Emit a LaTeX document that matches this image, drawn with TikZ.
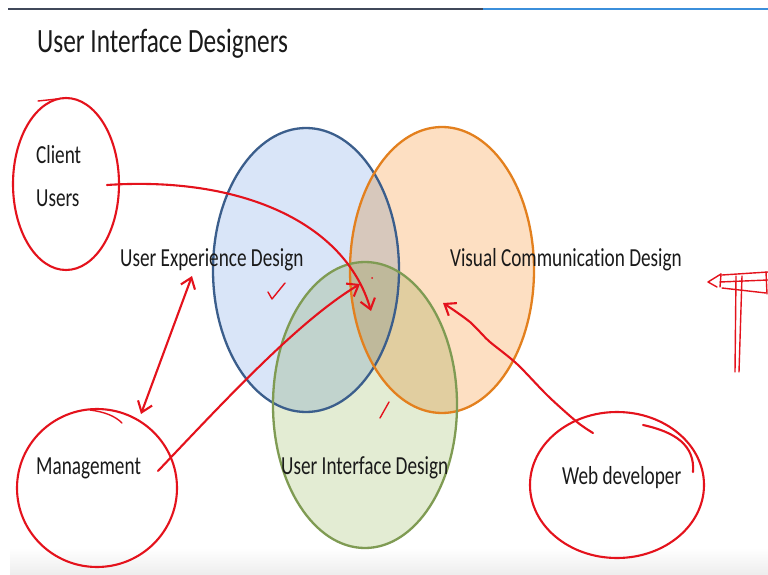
\documentclass[tikz,border=0pt]{standalone}
\usepackage{fontspec}
\setmainfont[Ligatures=CommonOff]{Carlito}
\usetikzlibrary{arrows.meta}
\definecolor{inkred}{RGB}{228,18,28}
\definecolor{textgray}{RGB}{26,26,26}
\definecolor{uxfill}{RGB}{217,229,248}
\definecolor{uxline}{RGB}{59,94,140}
\definecolor{vcfill}{RGB}{253,223,194}
\definecolor{vcline}{RGB}{227,128,30}
\definecolor{uifill}{RGB}{227,236,211}
\definecolor{uiline}{RGB}{127,155,83}
\definecolor{barslate}{RGB}{64,72,90}
\definecolor{barblue}{RGB}{59,143,219}
\begin{document}
\begin{tikzpicture}[x=1pt,y=-1pt,
  txt/.style={font=\fontsize{26}{30}\selectfont, text=textgray, xscale=0.74, inner sep=0pt, anchor=base west},
  heading/.style={font=\fontsize{34}{38}\selectfont, text=textgray, xscale=0.745, inner sep=0pt, anchor=base west},
  ring/.style={line width=2.3pt},
  redink/.style={draw=inkred, line width=2.1pt, line cap=round, line join=round},
  thinink/.style={draw=inkred, line width=1.4pt, line cap=round, line join=round},
  barb/.style={-{Straight Barb[length=10pt,width=15pt,line width=2.1pt]}},
  dbarb/.style={{Straight Barb[length=10pt,width=15pt,line width=2.1pt]}-{Straight Barb[length=10pt,width=15pt,line width=2.1pt]}}]
\useasboundingbox (0,0) rectangle (768,575);
\fill[white] (0,0) rectangle (768,575);

% slide frame: top rule and bottom shade
\fill[barslate] (8,8) rectangle (483,10);
\fill[barblue] (483,8) rectangle (768,10);
\shade[top color=white, bottom color=black!7] (10,548) rectangle (768,575);

% title
\node[heading] (title) at (37,53) {User Interface Designers};

% three overlapping design areas
\begin{scope}[blend group=multiply]
  \fill[uxfill] (306,270) ellipse [x radius=93, y radius=142];
  \fill[vcfill] (442,270) ellipse [x radius=92, y radius=143];
  \fill[uifill] (365,405) ellipse [x radius=92, y radius=143];
\end{scope}
\draw[ring, uxline] (306,270) ellipse [x radius=93, y radius=142];
\draw[ring, vcline] (442,270) ellipse [x radius=92, y radius=143];
\draw[ring, uiline] (365,405) ellipse [x radius=92, y radius=143];

% labels
\node[txt] (client) at (36,164) {Client};
\node[txt] (users) at (36,206) {Users};
\node[txt] (ux) at (120,266) {User Experience Design};
\node[txt] (vc) at (450,266) {Visual Communication Design};
\node[txt] (mgmt) at (36,474) {Management};
\node[txt] (ui) at (281,474) {User Interface Design};
\node[txt] (web) at (562,484) {Web developer};

% hand-drawn circles around the stakeholders
\draw[redink] (66,184) ellipse [x radius=53, y radius=86];
\draw[thinink] (38,101) -- (57,99);
\draw[redink] (97,488) ellipse [x radius=80, y radius=79];
\draw[thinink] (90,410) .. controls (105,412) and (115,416) .. (122,423);
\draw[redink] (617,485) ellipse [x radius=87, y radius=73];
\draw[redink] (643,425) .. controls (675,432) and (695,445) .. (693,472);

% annotation anchors
\coordinate (usersOut) at (107,185);
\coordinate (core) at (371,311);
\coordinate (coreLeft) at (360,284);
\coordinate (mgmtOut) at (158,471);
\coordinate (uxText) at (192,276);
\coordinate (mgmtTop) at (141,414);
\coordinate (webOut) at (593,433);
\coordinate (vcIn) at (443,303);

% annotation arrows
\draw[redink, barb] (usersOut) .. controls (240,176) and (345,222) .. (core);
\draw[redink, barb] (mgmtOut) .. controls (230,395) and (300,320) .. (coreLeft);
\draw[redink, dbarb] (mgmtTop) -- (uxText);
\draw[redink, barb] plot[smooth] coordinates {(webOut) (577,422) (548,396) (517,364) (490,342) (480,332) (470,322) (455,311) (vcIn)};

% ticks and small marks
\draw[thinink] (268,292) -- (272,299) -- (285,283);
\draw[thinink] (380,418) -- (389,402);
\fill[inkred] (372,278) circle (1pt);

% sign at the right edge
\draw[thinink] (722,275) -- (768,272);
\draw[thinink] (720,282) -- (768,280);
\draw[thinink] (722,288) -- (766,293);
\draw[thinink] (721,274) -- (708,282) -- (717,287);
\draw[thinink] (721,274) -- (720,287);
\draw[thinink] (766,272) -- (767,294);
\draw[thinink] (736,276) -- (735,372);
\draw[thinink] (742,276) -- (739,372);
\end{tikzpicture}
\end{document}
